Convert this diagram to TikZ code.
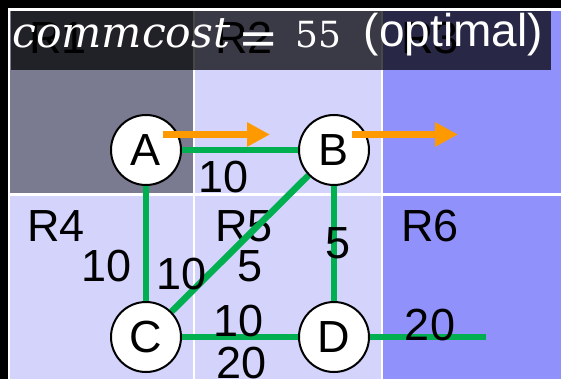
\documentclass[tikz,border=0pt]{standalone}
\usepackage[no-math]{fontspec}
\setmainfont{Liberation Sans}
\newfontfamily\titleserif{DejaVu Serif}
\usetikzlibrary{arrows.meta}
\pgfdeclarelayer{bg}
\pgfdeclarelayer{edges}
\pgfsetlayers{bg,edges,main}
\definecolor{cellgray}{RGB}{122,122,144}
\definecolor{celllight}{RGB}{211,211,252}
\definecolor{cellblue}{RGB}{145,145,252}
\definecolor{edgegreen}{RGB}{0,176,80}
\definecolor{arroworange}{RGB}{255,153,0}
\tikzset{
 region/.style={anchor=base west, inner sep=0pt, font=\fontsize{45}{50}\selectfont},
 vertex/.style={circle, draw=black, line width=2pt, fill=white, minimum size=70pt, inner sep=0pt, font=\fontsize{45}{50}\selectfont},
 link/.style={draw=edgegreen, line width=6.5pt},
 weight/.style={anchor=base, inner sep=0pt, font=\fontsize{45}{50}\selectfont},
 move/.style={draw=arroworange, line width=7pt, -{Triangle[length=23pt,width=23pt,fill=arroworange]}},
 titletext/.style={inner sep=0pt, text=white},
}
\begin{document}
\begin{tikzpicture}[x=1pt,y=-1pt]
\useasboundingbox (0,0) rectangle (561,379);
\begin{pgfonlayer}{bg}
\fill[black] (0,0) rectangle (561,379);
\fill[white] (7.5,8.5) rectangle (561,379);
% cells
\fill[cellgray]  (9.7,10.7) rectangle (193,193.5);
\fill[celllight] (195,10.7) rectangle (381,193.5);
\fill[cellblue]  (383,10.7) rectangle (561,193.5);
\fill[celllight] (9.7,195.8) rectangle (193,379);
\fill[celllight] (195,195.8) rectangle (381,379);
\fill[cellblue]  (383,195.8) rectangle (561,379);
% region labels
\node[region] (r1) at (29,54) {R1};
\node[region] (r2) at (215,54) {R2};
\node[region] (r3) at (401,54) {R3};
\node[region] (r4) at (27,241) {R4};
\node[region] (r5) at (215,241) {R5};
\node[region] (r6) at (401,241) {R6};
% title bar
\fill[black, fill opacity=0.72] (10.5,11) rectangle (551,70);
\end{pgfonlayer}
\node[titletext, anchor=base west] (title) at (12,48)
  {\titleserif\itshape\fontsize{42.5}{44}\selectfont commcost};
\node[titletext, anchor=base] (eq) at (259,55)
  {\titleserif\fontsize{48}{50}\selectfont =};
\node[titletext, anchor=base east] (value) at (342,48)
  {\titleserif\fontsize{36}{40}\selectfont 55};
\node[titletext, anchor=base east, font=\fontsize{46}{48}\selectfont] (opt) at (543,47) {(optimal)};
% vertices
\node[vertex] (A) at (146,150) {A};
\node[vertex] (B) at (334,150) {B};
\node[vertex] (C) at (146,337) {C};
\node[vertex] (D) at (334,337) {D};
\coordinate (Dend) at (486,337);
% edges
\begin{pgfonlayer}{edges}
\draw[link] (A) -- (B);
\draw[link] (A) -- (C);
\draw[link] (B) -- (C);
\draw[link] (B) -- (D);
\draw[link] (C) -- (D);
\draw[link] (D) -- (Dend);
\end{pgfonlayer}
% weights
\node[weight] (wab) at (224,193) {10};
\node[weight] (wac) at (106.5,281) {10};
\node[weight] (wbc) at (181.5,289) {10};
\node[weight] (wbc2) at (250,281) {5};
\node[weight] (wbd) at (338,258) {5};
\node[weight] (wcd) at (238.5,336) {10};
\node[weight] (wcd2) at (242,378) {20};
\node[weight] (wdx) at (430,340) {20};
% moves
\coordinate (a1) at (163,134.5);
\coordinate (a2) at (270,134.5);
\coordinate (b1) at (352,134.5);
\coordinate (b2) at (458,134.5);
\draw[move] (a1) -- (a2);
\draw[move] (b1) -- (b2);
\end{tikzpicture}
\end{document}
